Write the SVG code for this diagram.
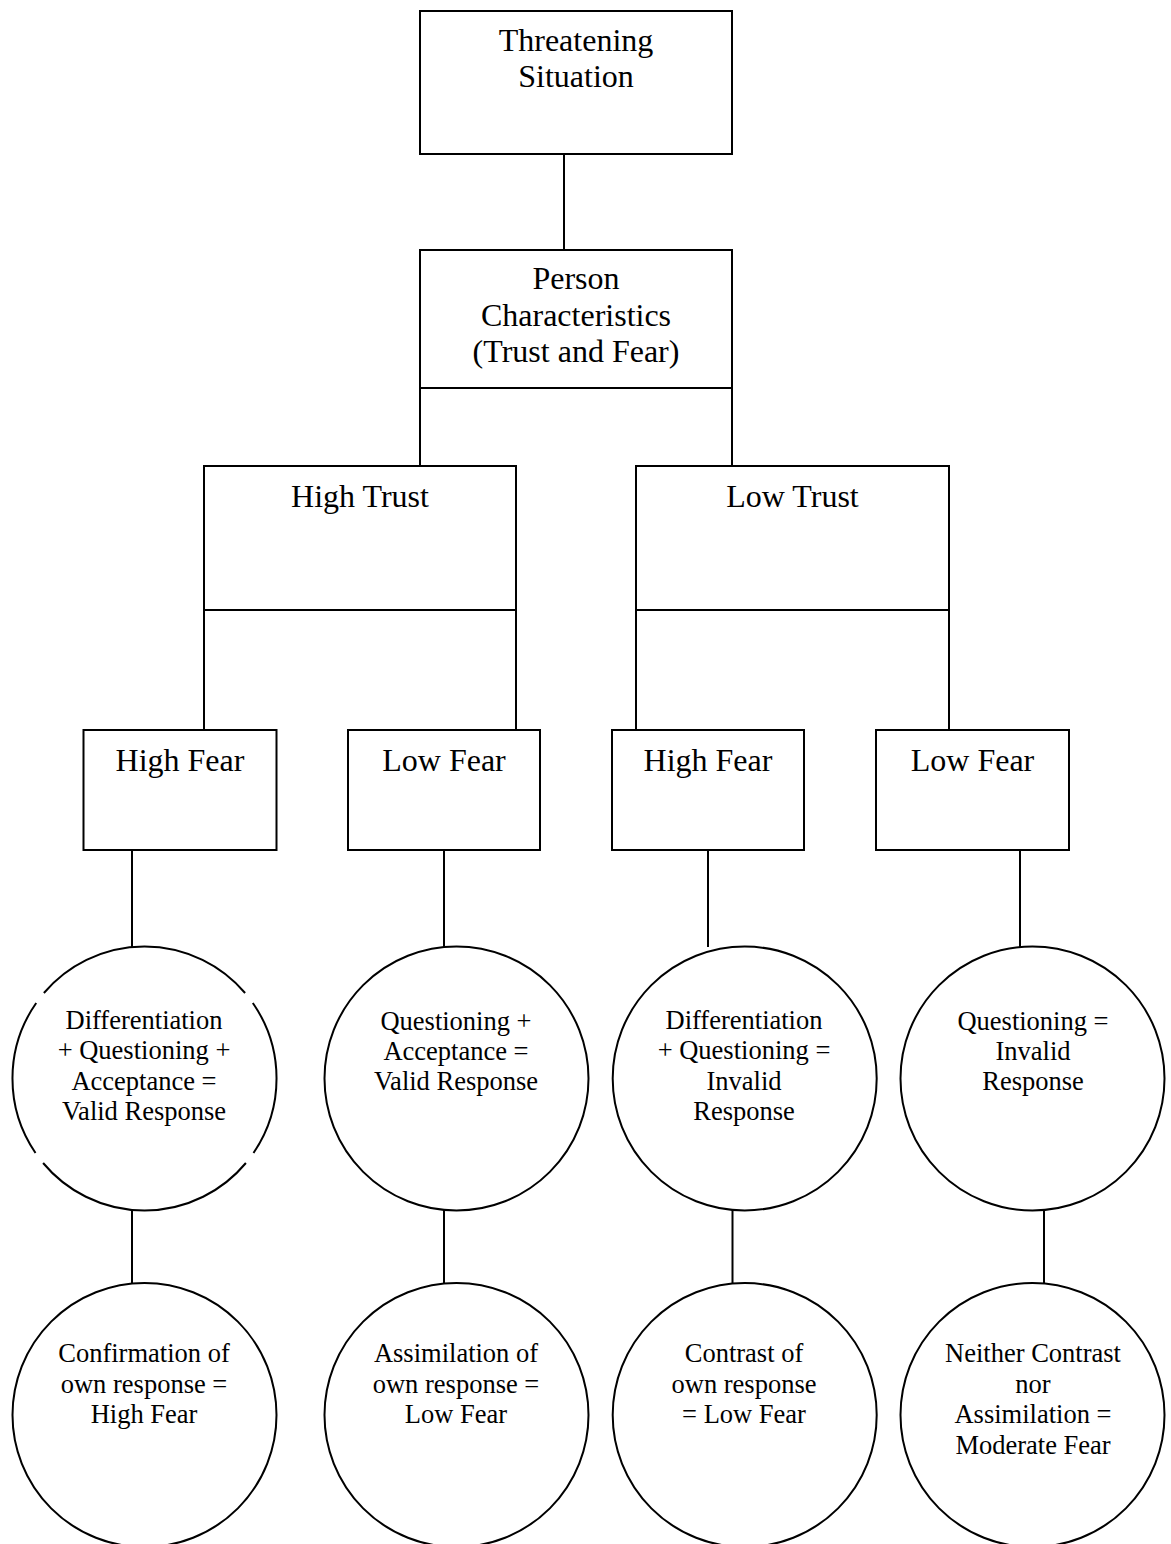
<svg xmlns="http://www.w3.org/2000/svg" width="1171" height="1544" viewBox="0 0 1171 1544">
<style>
.box{fill:#fff;stroke:#000;stroke-width:2}
.circ{fill:#fff;stroke:#000;stroke-width:2}
.ln{stroke:#000;stroke-width:2;fill:none}
.t{font-family:"Liberation Serif","Times New Roman",serif;font-size:32px;fill:#000;text-anchor:middle}
.c{font-family:"Liberation Serif","Times New Roman",serif;font-size:26.5px;fill:#000;text-anchor:middle}
</style>
<rect width="1171" height="1544" fill="#fff"/>
<g id="connectors">
<line class="ln" x1="564" y1="154" x2="564" y2="250"/>
<line class="ln" x1="420" y1="388" x2="420" y2="466"/>
<line class="ln" x1="732" y1="388" x2="732" y2="466"/>
<line class="ln" x1="204" y1="610" x2="204" y2="730"/>
<line class="ln" x1="516" y1="610" x2="516" y2="730"/>
<line class="ln" x1="636" y1="610" x2="636" y2="730"/>
<line class="ln" x1="949" y1="610" x2="949" y2="730"/>
<line class="ln" x1="132" y1="850" x2="132" y2="947"/>
<line class="ln" x1="444" y1="850" x2="444" y2="947"/>
<line class="ln" x1="708" y1="850" x2="708" y2="947"/>
<line class="ln" x1="1020" y1="850" x2="1020" y2="947"/>
<line class="ln" x1="132" y1="1210" x2="132" y2="1284"/>
<line class="ln" x1="444" y1="1210" x2="444" y2="1284"/>
<line class="ln" x1="732.5" y1="1210" x2="732.5" y2="1284"/>
<line class="ln" x1="1044" y1="1210" x2="1044" y2="1284"/>
</g>
<g id="threatening">
<rect class="box" x="420" y="11" width="312" height="143"/>
<text class="t" x="576" y="51">Threatening</text>
<text class="t" x="576" y="87">Situation</text>
</g>
<g id="person">
<rect class="box" x="420" y="250" width="312" height="138"/>
<text class="t" x="576" y="289">Person</text>
<text class="t" x="576" y="326">Characteristics</text>
<text class="t" x="576" y="362">(Trust and Fear)</text>
</g>
<g id="high-trust">
<rect class="box" x="204" y="466" width="312" height="144"/>
<text class="t" x="360" y="507">High Trust</text>
</g>
<g id="low-trust">
<rect class="box" x="636" y="466" width="313" height="144"/>
<text class="t" x="792.5" y="507">Low Trust</text>
</g>
<g id="high-fear-1">
<rect class="box" x="83.5" y="730" width="193" height="120"/>
<text class="t" x="180" y="771">High Fear</text>
</g>
<g id="low-fear-1">
<rect class="box" x="348" y="730" width="192" height="120"/>
<text class="t" x="444" y="771">Low Fear</text>
</g>
<g id="high-fear-2">
<rect class="box" x="612" y="730" width="192" height="120"/>
<text class="t" x="708" y="771">High Fear</text>
</g>
<g id="low-fear-2">
<rect class="box" x="876" y="730" width="193" height="120"/>
<text class="t" x="972.5" y="771">Low Fear</text>
</g>
<g id="response-1">
<circle cx="144.5" cy="1078.5" r="132" fill="#fff"/>
<path class="ln" d="M43.9 993 A132 132 0 0 1 245.1 993 M252.8 1003 A132 132 0 0 1 253.5 1153 M245.9 1163 A132 132 0 0 1 43.1 1163 M35.5 1153 A132 132 0 0 1 36.2 1003"/>
<text class="c" x="144" y="1028.5">Differentiation</text>
<text class="c" x="144" y="1059">+ Questioning +</text>
<text class="c" x="144" y="1089.5">Acceptance =</text>
<text class="c" x="144" y="1120">Valid Response</text>
</g>
<g id="response-2">
<circle class="circ" cx="456.5" cy="1078.5" r="132"/>
<text class="c" x="456" y="1029.5">Questioning +</text>
<text class="c" x="456" y="1059.5">Acceptance =</text>
<text class="c" x="456" y="1089.5">Valid Response</text>
</g>
<g id="response-3">
<circle class="circ" cx="744.7" cy="1078.5" r="132"/>
<text class="c" x="744" y="1028.5">Differentiation</text>
<text class="c" x="744" y="1059">+ Questioning =</text>
<text class="c" x="744" y="1089.5">Invalid</text>
<text class="c" x="744" y="1120">Response</text>
</g>
<g id="response-4">
<circle class="circ" cx="1032.5" cy="1078.5" r="132"/>
<text class="c" x="1033" y="1029.5">Questioning =</text>
<text class="c" x="1033" y="1060">Invalid</text>
<text class="c" x="1033" y="1090">Response</text>
</g>
<g id="outcome-1">
<circle class="circ" cx="144.5" cy="1415" r="132"/>
<text class="c" x="144" y="1362">Confirmation of</text>
<text class="c" x="144" y="1392.5">own response =</text>
<text class="c" x="144" y="1423">High Fear</text>
</g>
<g id="outcome-2">
<circle class="circ" cx="456.5" cy="1415" r="132"/>
<text class="c" x="456" y="1362">Assimilation of</text>
<text class="c" x="456" y="1392.5">own response =</text>
<text class="c" x="456" y="1423">Low Fear</text>
</g>
<g id="outcome-3">
<circle class="circ" cx="744.7" cy="1415" r="132"/>
<text class="c" x="744" y="1362">Contrast of</text>
<text class="c" x="744" y="1392.5">own response</text>
<text class="c" x="744" y="1423">= Low Fear</text>
</g>
<g id="outcome-4">
<circle class="circ" cx="1032.5" cy="1415" r="132"/>
<text class="c" x="1033" y="1362">Neither Contrast</text>
<text class="c" x="1033" y="1392.5">nor</text>
<text class="c" x="1033" y="1423">Assimilation =</text>
<text class="c" x="1033" y="1453.5">Moderate Fear</text>
</g>
</svg>
